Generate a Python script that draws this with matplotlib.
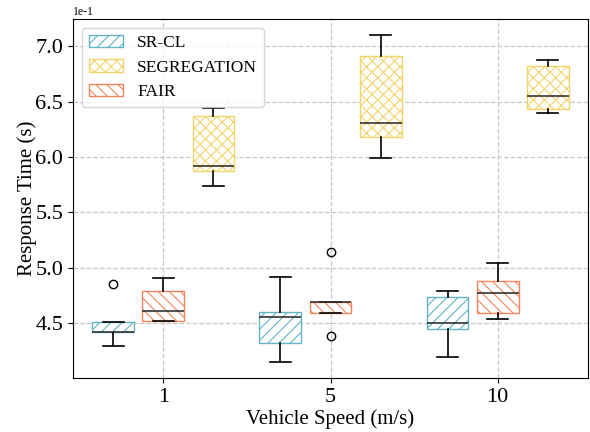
import numpy as np
import matplotlib
matplotlib.use("Agg")
import matplotlib.pyplot as plt

plt.rcParams["font.family"] = ["Liberation Serif", "DejaVu Serif"]
plt.rcParams["axes.unicode_minus"] = False
plt.rcParams["hatch.linewidth"] = 0.8

speeds = ["1", "5", "10"]
series = ["SR-CL", "SEGREGATION", "FAIR"]
colors = ["#62b4c6", "#f3d46a", "#f5845c"]
hatches = ["///", "xxx", "\\\\\\"]
offsets = [-0.3, 0.3, 0.0]

# box stats per series, one value per speed group (seconds)
srcl_whislo = [0.4296, 0.4151, 0.4194]
srcl_q1 = [0.4420, 0.4316, 0.4449]
srcl_med = [0.4420, 0.4557, 0.4500]
srcl_q3 = [0.4514, 0.4600, 0.4731]
srcl_whishi = [0.4514, 0.4914, 0.4791]
srcl_fliers = [[0.4850], [], []]

seg_whislo = [0.5737, 0.5989, 0.6397]
seg_q1 = [0.5878, 0.6185, 0.6430]
seg_med = [0.5920, 0.6307, 0.6554]
seg_q3 = [0.6374, 0.6914, 0.6824]
seg_whishi = [0.6446, 0.7100, 0.6875]
seg_fliers = [[], [], []]

fair_whislo = [0.4515, 0.4590, 0.4536]
fair_q1 = [0.4515, 0.4590, 0.4590]
fair_med = [0.4610, 0.4689, 0.4770]
fair_q3 = [0.4790, 0.4689, 0.4878]
fair_whishi = [0.4910, 0.4689, 0.5040]
fair_fliers = [[], [0.5142, 0.4386], []]

all_stats = [
    (srcl_whislo, srcl_q1, srcl_med, srcl_q3, srcl_whishi, srcl_fliers),
    (seg_whislo, seg_q1, seg_med, seg_q3, seg_whishi, seg_fliers),
    (fair_whislo, fair_q1, fair_med, fair_q3, fair_whishi, fair_fliers),
]

fig = plt.figure(figsize=(5.9, 4.32), dpi=100)
ax = fig.add_axes([73 / 590, 1 - 378 / 432, (588 - 73) / 590, (378 - 19) / 432])

x = np.arange(len(speeds))
handles = []
for k, (wl, q1, med, q3, wh, fl) in enumerate(all_stats):
    stats = []
    for i in range(len(speeds)):
        stats.append(dict(whislo=wl[i], q1=q1[i], med=med[i], q3=q3[i],
                          whishi=wh[i], fliers=fl[i]))
    b = ax.bxp(stats, positions=x + offsets[k], widths=0.25, patch_artist=True,
               manage_ticks=False,
               boxprops=dict(facecolor="white", edgecolor=colors[k],
                             hatch=hatches[k], linewidth=1.0),
               medianprops=dict(color="#333333", linewidth=1.2),
               whiskerprops=dict(color="black", linewidth=1.2),
               capprops=dict(color="black", linewidth=1.2),
               flierprops=dict(marker="o", markerfacecolor="none",
                               markeredgecolor="black", markersize=6))
    handles.append(b["boxes"][0])

ax.set_xlim(-0.54, 2.54)
ax.set_xticks(x)
ax.set_xticklabels(speeds)
ax.ticklabel_format(axis="y", style="sci", scilimits=(0, 0))
ax.yaxis.get_offset_text().set_fontsize(8.5)
ax.tick_params(labelsize=16)
ax.set_axisbelow(True)
ax.grid(True, linestyle="--", color="#c8c8c8", linewidth=0.9)
ax.set_xlabel("Vehicle Speed (m/s)", fontsize=15, labelpad=1.5)
ax.set_ylabel("Response Time (s)", fontsize=15, labelpad=-1)
ax.legend(handles, series, loc="upper left", fontsize=12.5)

fig.savefig("out.png", dpi=100)
